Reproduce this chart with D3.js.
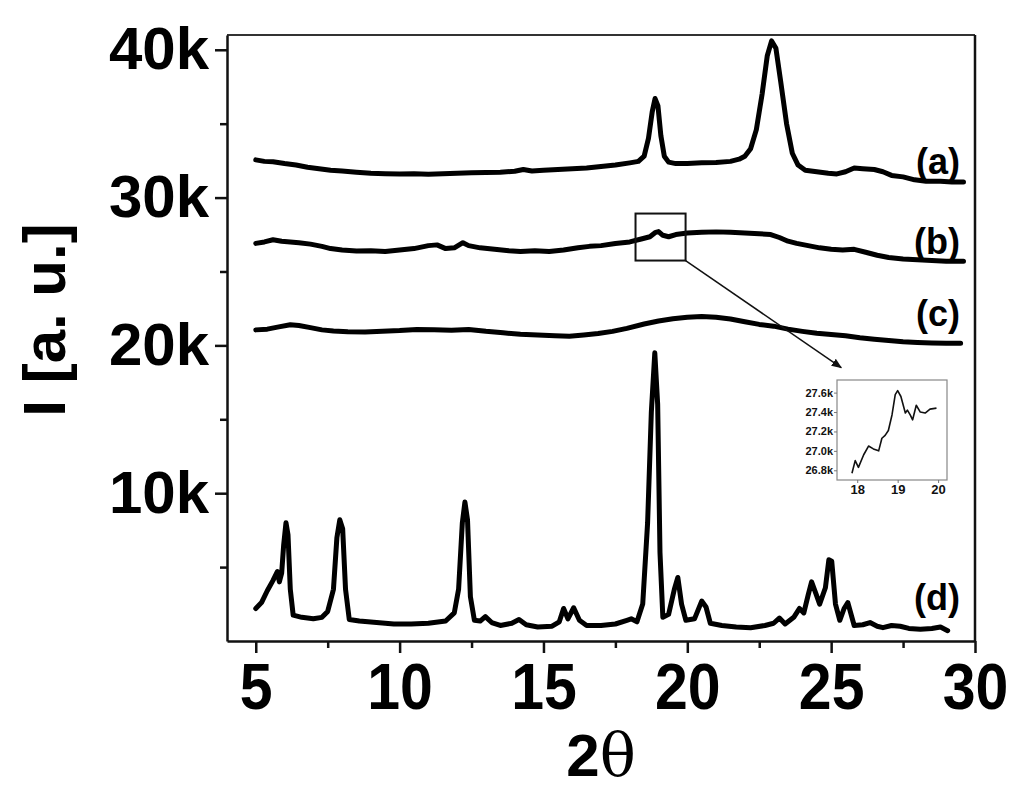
<!DOCTYPE html>
<html>
<head>
<meta charset="utf-8">
<script src="https://cdn.jsdelivr.net/npm/d3@7"></script>
<style>
  body { margin:0; background:#fff; }
  svg text { font-family: 'Liberation Sans', Arial, sans-serif; font-weight: bold; }
</style>
</head>
<body>
<div class="chart"></div>
<script>
// 2theta, intensity in k
var seriesA = [[5.0,32.55],[5.3,32.45],[5.6,32.42],[6.0,32.3],[6.4,32.2],[6.8,32.05],[7.2,31.95],[7.6,31.85],[8.0,31.8],[8.5,31.72],[9.0,31.65],[9.5,31.62],[10.0,31.6],[10.5,31.62],[11.0,31.58],[11.5,31.62],[12.0,31.65],[12.5,31.68],[13.0,31.7],[13.5,31.72],[14.0,31.78],[14.3,31.9],[14.6,31.8],[15.0,31.85],[15.5,31.9],[16.0,31.95],[16.5,32.0],[17.0,32.1],[17.5,32.2],[18.0,32.35],[18.3,32.45],[18.5,32.8],[18.65,34.0],[18.78,35.8],[18.88,36.7],[18.98,36.2],[19.08,34.2],[19.2,32.8],[19.35,32.4],[19.6,32.3],[20.0,32.3],[20.5,32.35],[21.0,32.38],[21.5,32.45],[21.8,32.6],[22.0,32.8],[22.2,33.3],[22.4,34.6],[22.6,37.0],[22.78,39.6],[22.93,40.6],[23.08,40.1],[23.25,37.8],[23.45,35.0],[23.65,33.0],[23.85,32.2],[24.1,31.85],[24.5,31.75],[24.9,31.65],[25.2,31.6],[25.5,31.75],[25.8,32.0],[26.1,31.95],[26.5,31.9],[26.8,31.75],[27.1,31.5],[27.5,31.4],[27.9,31.2],[28.3,31.1],[28.8,31.1],[29.2,31.05],[29.6,31.05]];

var seriesB = [[5.0,26.9],[5.3,27.0],[5.6,27.15],[5.9,27.05],[6.2,27.0],[6.5,26.95],[6.9,26.85],[7.3,26.7],[7.6,26.55],[8.0,26.45],[8.5,26.38],[9.0,26.4],[9.5,26.35],[10.0,26.45],[10.5,26.55],[11.0,26.75],[11.3,26.8],[11.6,26.55],[11.9,26.6],[12.2,26.95],[12.4,26.75],[12.8,26.6],[13.3,26.5],[13.8,26.4],[14.2,26.35],[14.7,26.4],[15.2,26.35],[15.7,26.45],[16.2,26.6],[16.6,26.7],[17.0,26.75],[17.5,26.9],[18.0,27.0],[18.4,27.2],[18.7,27.35],[18.9,27.65],[19.0,27.7],[19.15,27.45],[19.35,27.35],[19.6,27.5],[20.0,27.6],[20.5,27.65],[21.0,27.68],[21.5,27.65],[22.0,27.6],[22.5,27.55],[22.9,27.5],[23.2,27.3],[23.5,27.05],[23.8,26.9],[24.2,26.75],[24.6,26.6],[25.0,26.5],[25.4,26.45],[25.8,26.5],[26.2,26.3],[26.6,26.1],[27.0,25.95],[27.5,25.85],[28.0,25.8],[28.5,25.75],[29.0,25.7],[29.6,25.7]];

var seriesC = [[5.0,21.05],[5.4,21.1],[5.8,21.25],[6.2,21.4],[6.5,21.35],[6.9,21.2],[7.3,21.05],[7.7,20.98],[8.2,20.92],[8.8,20.9],[9.4,20.95],[10.0,21.0],[10.6,21.08],[11.2,21.05],[11.8,21.02],[12.4,21.08],[13.0,20.95],[13.6,20.85],[14.2,20.75],[14.8,20.7],[15.4,20.65],[15.9,20.62],[16.4,20.7],[16.9,20.8],[17.4,20.95],[17.9,21.15],[18.5,21.45],[19.0,21.65],[19.5,21.8],[20.0,21.9],[20.5,21.95],[21.0,21.9],[21.5,21.78],[22.0,21.6],[22.5,21.42],[23.0,21.3],[23.5,21.1],[24.0,20.95],[24.5,20.82],[25.0,20.74],[25.5,20.65],[26.0,20.52],[26.5,20.42],[27.0,20.33],[27.5,20.25],[28.0,20.2],[28.5,20.17],[29.0,20.15],[29.5,20.15]];

var seriesD = [[5.0,2.2],[5.2,2.6],[5.4,3.4],[5.6,4.1],[5.75,4.7],[5.82,4.0],[5.9,4.6],[5.97,6.5],[6.05,8.0],[6.12,7.2],[6.2,3.5],[6.3,1.75],[6.6,1.6],[7.0,1.5],[7.3,1.6],[7.5,2.0],[7.7,3.5],[7.82,7.0],[7.92,8.2],[8.02,7.6],[8.12,3.5],[8.25,1.45],[8.6,1.35],[9.2,1.25],[9.8,1.15],[10.4,1.15],[11.0,1.2],[11.6,1.35],[11.9,1.9],[12.05,3.5],[12.18,8.0],[12.27,9.4],[12.36,8.2],[12.46,3.0],[12.6,1.4],[12.8,1.35],[12.98,1.65],[13.2,1.25],[13.5,1.05],[13.9,1.2],[14.15,1.45],[14.4,1.1],[14.8,0.95],[15.3,1.0],[15.55,1.3],[15.7,2.2],[15.85,1.5],[16.05,2.25],[16.25,1.4],[16.5,1.05],[17.0,1.05],[17.5,1.15],[17.9,1.4],[18.05,1.5],[18.25,1.3],[18.45,2.5],[18.62,8.0],[18.75,15.5],[18.87,19.5],[18.97,16.0],[19.05,6.0],[19.15,1.6],[19.35,1.8],[19.55,3.5],[19.67,4.3],[19.8,2.5],[19.95,1.4],[20.25,1.5],[20.5,2.7],[20.65,2.3],[20.8,1.2],[21.2,1.05],[21.7,0.95],[22.2,0.9],[22.7,1.05],[23.0,1.2],[23.2,1.55],[23.4,1.15],[23.7,1.6],[23.9,2.2],[24.05,1.9],[24.2,3.1],[24.32,4.0],[24.47,3.2],[24.6,2.5],[24.8,3.6],[24.92,5.5],[25.02,5.4],[25.15,2.5],[25.3,1.4],[25.45,2.2],[25.58,2.6],[25.8,1.05],[26.1,1.1],[26.35,1.25],[26.6,1.0],[26.8,0.9],[27.1,1.05],[27.4,1.0],[27.7,0.85],[28.1,0.8],[28.5,0.85],[28.8,0.95],[29.05,0.7]];

// zoomed part of (b)
var insetData = [[17.87,26.77],[17.95,26.9],[18.03,26.83],[18.16,26.96],[18.28,27.05],[18.4,27.02],[18.53,27.0],[18.61,27.13],[18.69,27.16],[18.77,27.21],[18.86,27.37],[18.94,27.58],[19.0,27.62],[19.08,27.56],[19.19,27.39],[19.24,27.42],[19.31,27.37],[19.37,27.32],[19.46,27.47],[19.56,27.4],[19.68,27.39],[19.8,27.43],[19.96,27.44]];

var seriesLabels = ['(a)','(b)','(c)','(d)'];
var labelY = [31.6, 26.2, 21.3, 2.1];

var xTicks = [5,10,15,20,25,30];
var xMinor = [7.5,12.5,17.5,22.5,27.5];
var yTicks = [10,20,30,40];
var yMinor = [5,15,25,35];
var insetXTicks = [18,19,20];
var insetYTicks = [26.8,27.0,27.2,27.4,27.6];

// zoom box on (b) and arrow end, in 2theta / k
var zoomBox = [18.2, 19.94, 25.74, 28.92];
var arrowEnd = [25.35, 18.5];

var width = 1024, height = 797;
var svg = d3.select('.chart').append('svg').attr('width', width).attr('height', height);

var x = d3.scaleLinear().domain([4, 30]).range([227, 975]);
var y = d3.scaleLinear().domain([0, 41]).range([641, 35]);

var line = d3.line()
  .x(function(d){ return x(d[0]) })
  .y(function(d){ return y(d[1]) });

[seriesA, seriesB, seriesC, seriesD].forEach(function(s){
  svg.append('path')
    .datum(s)
    .attr('d', line)
    .attr('fill', 'none')
    .attr('stroke', '#000')
    .attr('stroke-width', 5)
    .attr('stroke-linejoin', 'round')
    .attr('stroke-linecap', 'round');
});

// frame
svg.append('line').attr('x1', x(4)).attr('x2', x(30)).attr('y1', y(41)).attr('y2', y(41))
  .attr('stroke', '#333').attr('stroke-width', 2);
svg.append('line').attr('x1', x(30)).attr('x2', x(30)).attr('y1', y(41)).attr('y2', y(0))
  .attr('stroke', '#111').attr('stroke-width', 2.5);

var xaxis = svg.append('g').attr('transform', 'translate(0,' + y(0) + ')')
  .call(d3.axisBottom(x).tickValues(xTicks).tickSize(12).tickSizeOuter(0).tickPadding(8));
svg.append('g').attr('transform', 'translate(0,' + y(0) + ')')
  .call(d3.axisBottom(x).tickValues(xMinor).tickSize(7).tickFormat(''))
  .select('.domain').remove();

var yaxis = svg.append('g').attr('transform', 'translate(' + x(4) + ',0)')
  .call(d3.axisLeft(y).tickValues(yTicks).tickSize(12).tickSizeOuter(0).tickPadding(6)
    .tickFormat(function(d){ return d + 'k' }));
svg.append('g').attr('transform', 'translate(' + x(4) + ',0)')
  .call(d3.axisLeft(y).tickValues(yMinor).tickSize(7).tickFormat(''))
  .select('.domain').remove();

svg.selectAll('.domain').attr('stroke', '#111').attr('stroke-width', 2.5);
svg.selectAll('.tick line').attr('stroke', '#111').attr('stroke-width', 2.5);

xaxis.selectAll('text')
  .style('font-size', '59px')
  .attr('fill', '#000')
  .attr('transform', 'scale(1,1.1)');
yaxis.selectAll('text')
  .style('font-size', '60px')
  .attr('fill', '#000')
  .attr('dy', '0.32em');

// axis titles
svg.append('text')
  .attr('transform', 'translate(65,320) rotate(-90)')
  .attr('text-anchor', 'middle')
  .style('font-size', '60px')
  .text('I [a. u.]');

var xt = svg.append('text')
  .attr('x', 601).attr('y', 776)
  .attr('text-anchor', 'middle')
  .style('font-size', '60px');
xt.append('tspan').text('2');
xt.append('tspan').style('font-weight', 'normal').style('font-family', "'DejaVu Serif', serif").text('θ');

// series labels
svg.selectAll('.serieslabel')
  .data(seriesLabels).enter()
  .append('text')
  .attr('class', 'serieslabel')
  .attr('x', 960)
  .attr('y', function(d, i){ return y(labelY[i]) })
  .attr('text-anchor', 'end')
  .style('font-size', '36px')
  .text(function(d){ return d });

// zoom box and arrow
svg.append('rect')
  .attr('x', x(zoomBox[0])).attr('y', y(zoomBox[3]))
  .attr('width', x(zoomBox[1]) - x(zoomBox[0]))
  .attr('height', y(zoomBox[2]) - y(zoomBox[3]))
  .attr('fill', 'none').attr('stroke', '#111').attr('stroke-width', 2);

svg.append('defs').append('marker')
  .attr('id', 'head')
  .attr('viewBox', '0 0 10 10')
  .attr('refX', 9).attr('refY', 5)
  .attr('markerWidth', 7).attr('markerHeight', 7)
  .attr('orient', 'auto')
  .append('path').attr('d', 'M0,1L10,5L0,9Z').attr('fill', '#111');

svg.append('line')
  .attr('x1', x(zoomBox[1])).attr('y1', y(zoomBox[2]))
  .attr('x2', x(arrowEnd[0])).attr('y2', y(arrowEnd[1]))
  .attr('stroke', '#111').attr('stroke-width', 1.5)
  .attr('marker-end', 'url(#head)');

// inset
var ix = d3.scaleLinear().domain([17.5, 20.22]).range([837, 947]);
var iy = d3.scaleLinear().domain([26.7, 27.73]).range([480, 380]);

svg.append('rect')
  .attr('x', 837).attr('y', 380).attr('width', 110).attr('height', 100)
  .attr('fill', '#fff').attr('stroke', '#888').attr('stroke-width', 1.2);

var ixaxis = svg.append('g').attr('transform', 'translate(0,480)')
  .call(d3.axisBottom(ix).tickValues(insetXTicks).tickSize(3).tickPadding(2)
    .tickFormat(d3.format('d')));
var iyaxis = svg.append('g').attr('transform', 'translate(837,0)')
  .call(d3.axisLeft(iy).tickValues(insetYTicks).tickSize(3).tickPadding(1)
    .tickFormat(function(d){ return d.toFixed(1) + 'k' }));
ixaxis.select('.domain').remove();
iyaxis.select('.domain').remove();
ixaxis.selectAll('line').attr('stroke', '#777');
iyaxis.selectAll('line').attr('stroke', '#777');
ixaxis.selectAll('text').style('font-size', '13px').attr('fill', '#111');
iyaxis.selectAll('text').style('font-size', '11px').attr('fill', '#111');

svg.append('path')
  .datum(insetData)
  .attr('d', d3.line().x(function(d){ return ix(d[0]) }).y(function(d){ return iy(d[1]) }))
  .attr('fill', 'none')
  .attr('stroke', '#111')
  .attr('stroke-width', 1.6)
  .attr('stroke-linejoin', 'round');
</script>
</body>
</html>
